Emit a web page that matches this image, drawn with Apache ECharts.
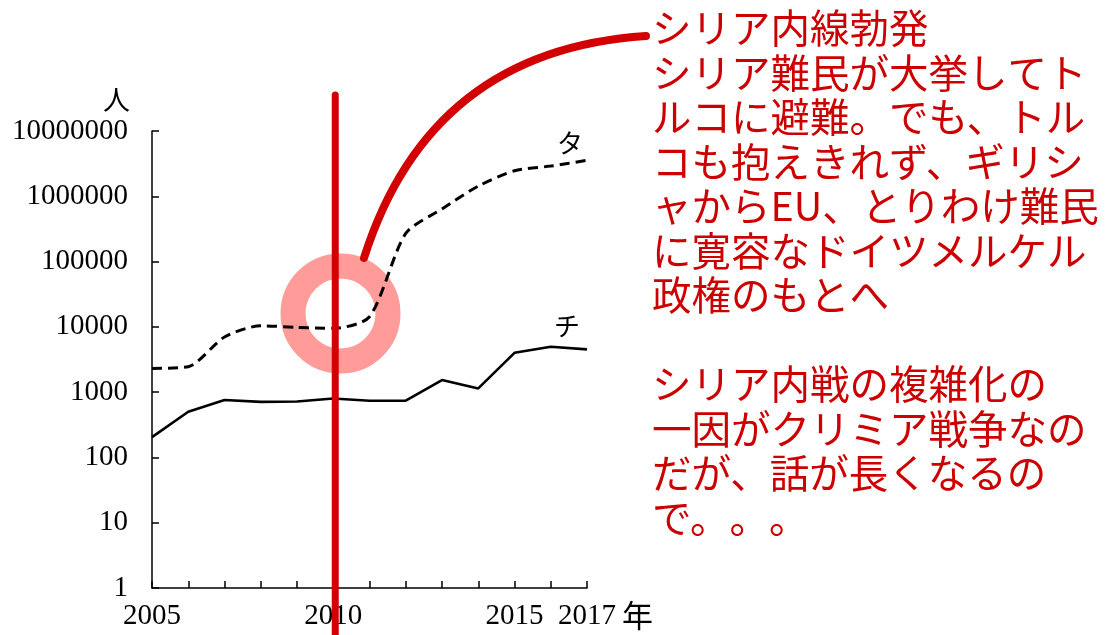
<!DOCTYPE html>
<html>
<head>
<meta charset="utf-8">
<script src="https://cdn.jsdelivr.net/npm/echarts@6/dist/echarts.min.js"></script>
<style>
  html, body { margin: 0; padding: 0; background: #fff; }
  #chart { width: 1112px; height: 635px; }
</style>
</head>
<body>
<div id="chart"></div>
<script>
// 年（横軸）
const years = [2005, 2006, 2007, 2008, 2009, 2010, 2011, 2012, 2013, 2014, 2015, 2016, 2017];
// タ（破線）
const seriesTa = [2310, 2450, 7000, 10400, 9800, 9500, 14300, 270000, 640000, 1430000, 2460000, 2900000, 3560000];
// チ（実線）
const seriesChi = [205, 500, 760, 710, 720, 800, 740, 740, 1530, 1140, 4000, 4950, 4520];
// 目盛りラベルを出す年
const yearLabels = [2005, 2010, 2015, 2017];
// 注目点（赤い丸）と縦線の年
const ringPoint = [2010.2, 16000];
const markYear = 2010;

const red = '#d20000';
const serif = '"Liberation Serif", "DejaVu Serif", serif';
const jp = '"Noto Sans CJK JP", "Noto Sans", sans-serif';

// 句点が詰まらないようにゼロ幅スペースで区切る
const zw = '\u200B';
const note = [
  'シリア内線勃発',
  'シリア難民が大挙してト',
  'ルコに避難。でも、トル',
  'コも抱えきれず、ギリシ',
  'ャからEU、とりわけ難民',
  'に寛容なドイツメルケル',
  '政権のもとへ',
  '',
  'シリア内戦の複雑化の',
  '一因がクリミア戦争なの',
  'だが、話が長くなるの',
  'で。' + zw + '。' + zw + '。'
].join('\n');

function withEndLabel(values, text, offset) {
  return values.map((v, i) => {
    const item = { value: [years[i], v] };
    if (i === values.length - 1) {
      item.label = {
        show: true, formatter: text, position: 'top', offset: offset,
        fontFamily: jp, fontSize: 26, color: '#000'
      };
    }
    return item;
  });
}

const chart = echarts.init(document.getElementById('chart'));
chart.setOption({
  backgroundColor: '#fff',
  animation: false,
  grid: { left: 152, right: 525, top: 131, bottom: 47 },
  xAxis: {
    type: 'value',
    min: 2005, max: 2017, interval: 1,
    name: '年', nameLocation: 'end', nameGap: 30,
    nameTextStyle: { fontFamily: jp, fontSize: 31, color: '#000', verticalAlign: 'top', padding: [12, 0, 0, 0] },
    splitLine: { show: false },
    axisLine: { lineStyle: { color: '#000', width: 1.5 } },
    axisTick: { inside: true, length: 7, lineStyle: { color: '#000', width: 1.5 } },
    axisLabel: {
      margin: 14, fontFamily: serif, fontSize: 29, color: '#000',
      showMinLabel: true, showMaxLabel: true,
      formatter: v => (yearLabels.includes(v) ? String(v) : '')
    }
  },
  yAxis: {
    type: 'log', logBase: 10, min: 1, max: 10000000,
    name: '人', nameLocation: 'end', nameGap: 18,
    nameTextStyle: { fontFamily: jp, fontSize: 27, color: '#000', align: 'right', padding: [0, 22, 0, 0] },
    splitLine: { show: false },
    axisLine: { show: true, lineStyle: { color: '#000', width: 1.5 } },
    axisTick: { inside: true, length: 7, lineStyle: { color: '#000', width: 1.5 } },
    axisLabel: {
      margin: 24, fontFamily: serif, fontSize: 29, color: '#000',
      formatter: v => String(Math.round(v))
    }
  },
  series: [
    {
      // 赤い丸（リング）
      type: 'custom', z: 1, clip: false, silent: true,
      data: [ringPoint],
      renderItem: (params, api) => {
        const c = api.coord([api.value(0), api.value(1)]);
        return {
          type: 'circle',
          shape: { cx: c[0], cy: c[1], r: 47.5 },
          style: { fill: 'none', stroke: '#ff9b98', lineWidth: 25 }
        };
      }
    },
    {
      name: 'タ', type: 'line', z: 3, smooth: 0.25,
      symbol: 'circle', symbolSize: 0, showSymbol: true,
      lineStyle: { color: '#000', width: 3, type: [10, 6] },
      data: withEndLabel(seriesTa, 'タ', [-17, 1])
    },
    {
      name: 'チ', type: 'line', z: 3,
      symbol: 'circle', symbolSize: 0, showSymbol: true,
      lineStyle: { color: '#000', width: 2.6 },
      data: withEndLabel(seriesChi, 'チ', [-20, -5])
    },
    {
      // 2010年の赤い縦線
      type: 'custom', z: 5, clip: false, silent: true,
      data: [[markYear, 1000]],
      renderItem: (params, api) => {
        const top = api.coord([api.value(0), Math.pow(10, 7.55)]);
        const bottom = api.coord([api.value(0), 0.05]);
        return {
          type: 'line',
          shape: { x1: top[0] + 2, y1: top[1], x2: bottom[0] + 2, y2: bottom[1] },
          style: { stroke: red, lineWidth: 7, lineCap: 'round' }
        };
      }
    }
  ],
  graphic: [
    {
      type: 'bezierCurve', z: 10, silent: true,
      shape: { x1: 364, y1: 258, cpx1: 430, cpy1: 50, x2: 646, y2: 36 },
      style: { stroke: red, lineWidth: 8, lineCap: 'round', fill: 'none' }
    },
    {
      type: 'text', left: 652, top: 6, z: 10, silent: true,
      style: {
        text: note, fill: '#cc0000', fontFamily: jp, fontSize: 39.5, lineHeight: 44.5
      }
    }
  ]
});
</script>
</body>
</html>
